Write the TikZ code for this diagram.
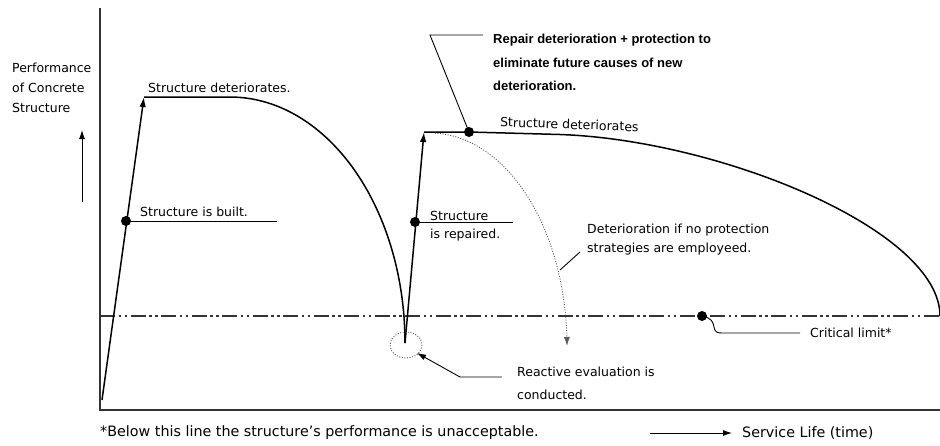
\documentclass[tikz,border=0pt]{standalone}
\usepackage{fontspec}
\setmainfont{DejaVu Sans}
\newfontfamily\calloutfont{Liberation Sans}
\usetikzlibrary{arrows.meta}
\begin{document}
\begin{tikzpicture}[x=1pt,y=-1pt,
  axisline/.style={line width=1.1pt, draw=black!80},
  curve/.style={line width=1.5pt},
  leader/.style={line width=0.9pt},
  dotline/.style={line width=0.9pt, draw=black!65, dash pattern=on 1pt off 1.6pt},
  critline/.style={line width=1.1pt, draw=black!80, dash pattern=on 15pt off 3.5pt on 2.5pt off 3.5pt on 2.5pt off 3.5pt},
  bigtip/.style={-{Latex[length=10pt,width=6.5pt]}},
  smalltip/.style={-{Latex[length=9pt,width=6pt]}},
  blob/.style={circle, fill=black, inner sep=0pt, minimum size=10pt},
  lbl/.style={font=\fontsize{12.5}{19}\selectfont, inner sep=0pt, align=left},
  bottomlbl/.style={font=\fontsize{14.3}{17}\selectfont, inner sep=0pt},
  boldlbl/.style={font=\calloutfont\bfseries\fontsize{13}{23.5}\selectfont, inner sep=0pt, align=left}
]
\useasboundingbox (0,0) rectangle (940,445);

% axes
\coordinate (ytop) at (100,8);
\coordinate (origin) at (100,410);
\coordinate (xend) at (940,410);
\draw[axisline] (ytop) -- (origin) -- (xend);

% y label and arrow
\node[lbl, anchor=north west, font=\fontsize{12.5}{20}\selectfont] (ylab) at (12,63) {Performance\\of Concrete\\Structure};
\coordinate (upA) at (82,202);
\coordinate (upB) at (82,130);
\draw[leader, smalltip] (upA) -- (upB);

% critical limit line
\coordinate (critL) at (100,316);
\coordinate (critR) at (940,316);
\draw[critline] (critL) -- (critR);

% first life cycle
\coordinate (start) at (102,400);
\coordinate (peak1) at (144,97);
\draw[curve, bigtip] (start) -- (peak1);
\coordinate (trough) at (405,343);
\draw[curve] (peak1) -- plot[domain=90:0, samples=60] ({230+175*cos(\x)},{343-246*sin(\x)});

% repair and second cycle
\coordinate (peak2) at (424,132);
\draw[curve, bigtip] (trough) -- (peak2);
\coordinate (flat2) at (560,134.5);
\coordinate (end2) at (940,316);
\draw[curve] (peak2) -- (469,132) -- (flat2) .. controls (720,140) and (940,230) .. (end2);

% deterioration without protection (dotted)
\draw[dotline, -{Latex[length=9pt,width=6pt]}] plot[domain=88:0, samples=60] ({430+137*cos(\x)},{346-213*sin(\x)});

% dotted circle at trough
\draw[dotline] (406,345) ellipse [x radius=16, y radius=13];

% built
\node[blob] (builtdot) at (126,221) {};
\coordinate (builtend) at (277,221);
\draw[leader] (builtdot.center) -- (builtend);
\node[lbl, anchor=west] (builttxt) at (140,212) {Structure is built.};

% deteriorates 1
\node[lbl, anchor=west] (det1) at (148,88) {Structure deteriorates.};

% repaired
\node[blob] (repdot) at (415,222) {};
\coordinate (repend) at (513,222);
\draw[leader] (repdot.center) -- (repend);
\node[lbl, anchor=north west, font=\fontsize{12.5}{18}\selectfont] (reptxt) at (430,211) {Structure\\is repaired.};

% protection callout
\node[blob] (protdot) at (469,132) {};
\coordinate (protbend) at (430,35);
\coordinate (protend) at (483,35);
\draw[leader] (protdot.center) -- (protbend) -- (protend);
\node[boldlbl, anchor=north west] (prottxt) at (493,34) {Repair deterioration + protection to\\eliminate future causes of new\\deterioration.};

% deteriorates 2
\node[lbl, anchor=west, rotate=-2] (det2) at (500,122) {Structure deteriorates};

% no protection callout
\coordinate (npA) at (560,270);
\coordinate (npB) at (580,252);
\draw[leader] (npA) -- (npB);
\node[lbl, anchor=north west] (nptxt) at (587,224) {Deterioration if no protection\\strategies are employeed.};

% reactive evaluation callout
\coordinate (reA) at (502,377);
\coordinate (reB) at (460,377);
\coordinate (reC) at (417,353);
\draw[leader, smalltip] (reA) -- (reB) -- (reC);
\node[lbl, anchor=north west, font=\fontsize{12.5}{23}\selectfont] (retxt) at (517,367) {Reactive evaluation is\\conducted.};

% critical limit callout
\node[blob] (critdot) at (702,316) {};
\coordinate (critend) at (800,333);
\draw[leader] (critdot.center) .. controls (712,318) and (713,322) .. (714,327) .. controls (715,332) and (717,333) .. (722,333) -- (critend);
\node[lbl, anchor=west] (crittxt) at (810,333) {Critical limit*};

% footnote and time axis
\node[bottomlbl, anchor=west] (foot) at (100,433) {*Below this line the structure's performance is unacceptable.};
\coordinate (tA) at (650,433);
\coordinate (tB) at (732,433);
\draw[leader, smalltip] (tA) -- (tB);
\node[bottomlbl, anchor=west] (ttxt) at (742,433) {Service Life (time)};
\end{tikzpicture}
\end{document}
